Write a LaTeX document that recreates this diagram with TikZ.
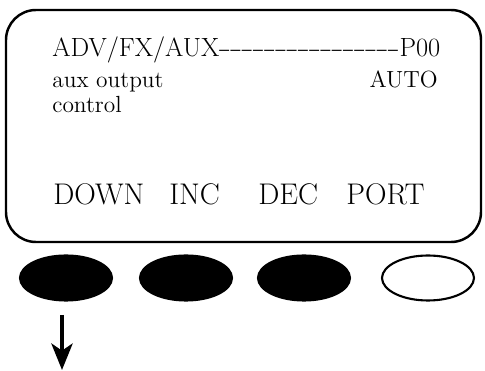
\documentclass[tikz,border=0pt]{standalone}
\usepackage{fontspec}
\usepackage{tikz}
\usetikzlibrary{arrows.meta, positioning, shapes.geometric}

\newcommand\lcddash{\hbox to 0.225cm{\hss\scalebox{1.5}[1]{-}\hss}}

\begin{document}
\begin{tikzpicture}[
    x=0.02cm, y=-0.02cm,
    screen/.style={draw, line width=1.4pt, rounded corners=0.6cm},
    lcd/.style={inner sep=0pt, font=\fontsize{15}{18}\selectfont},
    small/.style={inner sep=0pt, font=\fontsize{13.3}{16}\selectfont},
    softkey/.style={inner sep=0pt, font=\fontsize{17}{20}\selectfont},
    button/.style={ellipse, draw, line width=1.2pt, minimum width=1.84cm, minimum height=0.9cm, inner sep=0pt},
    arrow/.style={-{Stealth[length=15pt, width=12pt, inset=4pt]}, line width=2.5pt},
]
    \useasboundingbox (0,0) rectangle (485,371);
    \draw[screen] (6,10) rectangle (481,242);

    % display text
    \node[lcd, anchor=base west] (title) at (52,57)
        {\hbox to 7.76cm{ADV/FX/AUX\hss\foreach \i in {1,...,16}{\lcddash}\hss P00}};
    \node[small, anchor=base west] (aux) at (52,88) {aux output};
    \node[small, anchor=base east] (mode) at (438,88) {AUTO};
    \node[small, anchor=base west] (ctrl) at (52,113) {control};

    \node[softkey, anchor=base west] (down) at (53,205) {DOWN};
    \node[softkey, anchor=base west] (inc) at (169,205) {INC};
    \node[softkey, anchor=base west] (dec) at (258,205) {DEC};
    \node[softkey, anchor=base west] (port) at (346,205) {PORT};

    % keys
    \node[button, fill=black] (kdown) at (66,278) {};
    \node[button, fill=black] (kinc) at (186,278) {};
    \node[button, fill=black] (kdec) at (304,278) {};
    \node[button] (kport) at (428,278) {};

    \coordinate (arrowtop) at (62,315);
    \coordinate (arrowend) at (62,370);
    \draw[arrow] (arrowtop) -- (arrowend);
\end{tikzpicture}
\end{document}
